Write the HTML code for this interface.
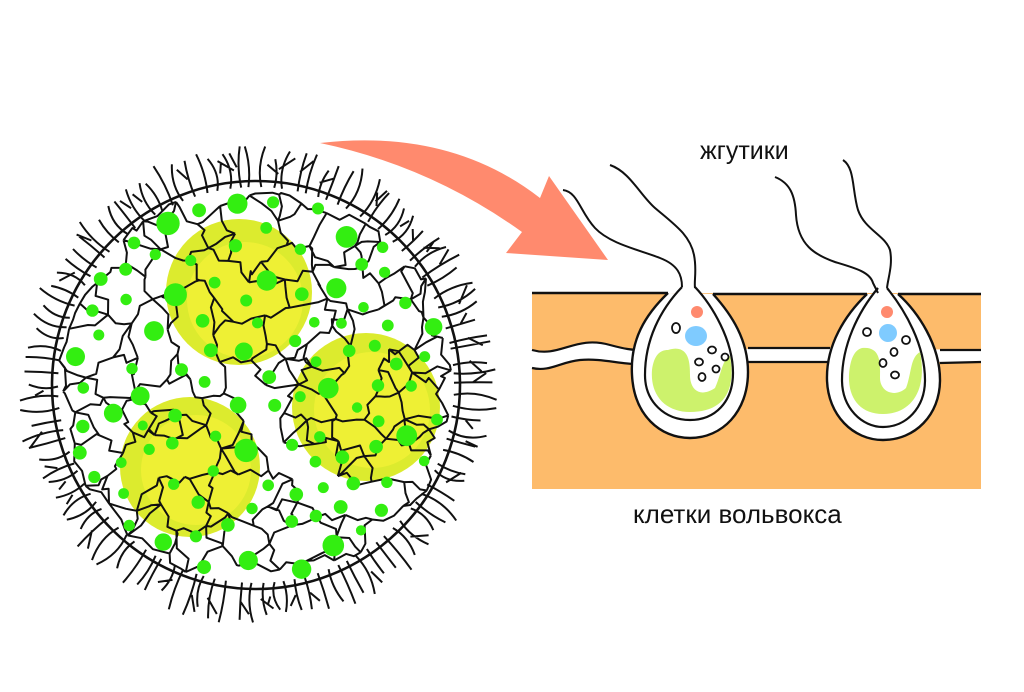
<!DOCTYPE html>
<html><head><meta charset="utf-8"><style>
html,body{margin:0;padding:0;background:#fff;width:1024px;height:692px;overflow:hidden}
svg{display:block}
text{font-family:"Liberation Sans",sans-serif;fill:#111}
</style></head><body>
<svg id="s" width="1024" height="692" viewBox="0 0 1024 692" xmlns="http://www.w3.org/2000/svg">
<path d="M320,143 Q450,128 540,198 L549,176 L608,260 L506,253 L522,232 Q430,166 320,143 Z" fill="#FF8A6E"/>
<g id="sphere">
<circle cx="239" cy="292" r="73" fill="#DCEB2E"/><circle cx="245" cy="300" r="58" fill="#EEF034"/>
<circle cx="366" cy="407" r="74" fill="#DCEB2E"/><circle cx="372" cy="410" r="58" fill="#EEF034"/>
<circle cx="190" cy="467" r="70" fill="#DCEB2E"/><circle cx="196" cy="470" r="55" fill="#EEF034"/>
<g id="net" stroke="#111" stroke-width="2" fill="none" stroke-linejoin="round"></g>
<circle cx="256" cy="385" r="204" fill="none" stroke="#111" stroke-width="2.6"/>
<g id="hair" stroke="#111" stroke-width="2" fill="none"></g>
<g id="dots" fill="#33EE11"></g>
</g>
<rect x="532" y="293" width="449" height="196" fill="#FDBB6B"/>
<line x1="532" y1="293" x2="668" y2="293" stroke="#111" stroke-width="2.4"/>
<line x1="713" y1="294" x2="867" y2="294" stroke="#111" stroke-width="2.4"/>
<line x1="898" y1="294" x2="981" y2="294" stroke="#111" stroke-width="2.4"/>
<path d="M532,350 C560,358 575,335 610,345 C625,349 632,350 640,350 L830,348 L981,350 L981,362 L830,362 L640,364 C620,364 600,358 580,360 C560,362 550,372 532,368 Z" fill="#fff"/>
<path d="M532,350 C560,358 575,335 610,345 C625,349 632,350 640,350 M748,348 L830,348 M940,350 L981,350" stroke="#111" stroke-width="2.2" fill="none"/>
<path d="M532,368 C550,372 560,362 580,360 C600,358 620,364 636,364 M748,362 L830,362 M940,363 L981,362" stroke="#111" stroke-width="2.2" fill="none"/>
<path d="M668,293 C645,315 630,340 632,375 C634,415 660,438 690,438 C722,438 748,412 748,372 C748,340 732,315 713,294" fill="#fff" stroke="#111" stroke-width="2.4"/>
<path d="M682,287 C660,310 645,340 645,375 C645,402 665,420 690,420 C715,420 733,402 733,373 C733,340 712,305 695,287" fill="#fff" stroke="#111" stroke-width="2.2"/>
<path d="M668,350 C690,343 690,365 690,375 C690,390 700,398 715,388 C722,372 722,360 730,356 C737,395 720,412 690,412 C665,412 650,395 652,370 C654,355 660,350 668,350 Z" fill="#CDF26C"/>
<circle cx="697" cy="312" r="6" fill="#FF8A6E"/>
<ellipse cx="696" cy="336" rx="11" ry="10" fill="#7FCBFF"/>
<g fill="none" stroke="#111" stroke-width="1.8">
<ellipse cx="676" cy="328" rx="4" ry="5"/><ellipse cx="712" cy="350" rx="4" ry="3.5"/><ellipse cx="725" cy="357" rx="3.5" ry="3.5"/><ellipse cx="699" cy="362" rx="4" ry="3.5"/><ellipse cx="716" cy="369" rx="3.5" ry="3.5"/><ellipse cx="702" cy="377" rx="3.5" ry="4"/>
</g>
<path d="M867,294 C845,315 826,345 827,380 C828,415 853,440 883,440 C915,440 940,415 940,380 C940,345 918,312 898,294" fill="#fff" stroke="#111" stroke-width="2.4"/>
<path d="M878,288 C858,312 842,345 842,380 C842,408 862,427 883,427 C906,427 925,408 925,380 C925,345 905,310 887,288" fill="#fff" stroke="#111" stroke-width="2.2"/>
<path d="M862,348 C882,346 880,365 880,378 C880,392 895,398 906,388 C912,372 910,358 920,352 C928,392 910,414 883,414 C860,414 848,398 849,375 C850,360 854,350 862,348 Z" fill="#CDF26C"/>
<circle cx="887" cy="312" r="6" fill="#FF8A6E"/>
<ellipse cx="888" cy="333" rx="9" ry="9" fill="#7FCBFF"/>
<g fill="none" stroke="#111" stroke-width="1.8">
<ellipse cx="867" cy="332" rx="4" ry="4"/><ellipse cx="906" cy="340" rx="4" ry="4"/><ellipse cx="894" cy="352" rx="3.5" ry="4"/><ellipse cx="883" cy="363" rx="3.5" ry="4"/><ellipse cx="895" cy="375" rx="4" ry="3.5"/>
</g>
<g fill="none" stroke="#111" stroke-width="2">
<path d="M563,190 C578,192 580,212 595,228 C610,244 640,250 660,258 C678,265 682,275 682,287"/>
<path d="M610,165 C630,172 640,195 655,208 C675,225 690,235 694,255 C697,270 694,280 695,288"/>
<path d="M775,177 C790,183 795,195 796,215 C798,245 815,255 835,262 C855,268 870,272 873,283 L878,293"/>
<path d="M843,160 C855,168 852,190 858,210 C865,230 885,235 890,250 C893,265 888,278 887,288"/>
</g>
<text x="700" y="159" font-size="25">жгутики</text>
<text x="633" y="523" font-size="26">клетки вольвокса</text>
</svg>
<script>
(function(){
var s=12345;function r(){s=(s*16807)%2147483647;return s/2147483647;}
var NS="http://www.w3.org/2000/svg",cx=256,cy=385,R=204;
function add(g,tag,at){var e=document.createElementNS(NS,tag);for(var k in at)e.setAttribute(k,at[k]);document.getElementById(g).appendChild(e);}
var P=[],t=0;
while(P.length<150&&t<50000){t++;var x=cx+(r()*2-1)*R,y=cy+(r()*2-1)*R;var d=Math.hypot(x-cx,y-cy);if(d<R-3){var ok=true;for(var i=0;i<P.length;i++){if(Math.hypot(P[i][0]-x,P[i][1]-y)<22){ok=false;break;}}if(ok)P.push([x,y]);}}
var seen={},d="";
for(var i=0;i<P.length;i++){var L=[];for(var j=0;j<P.length;j++)if(j!=i)L.push([Math.hypot(P[i][0]-P[j][0],P[i][1]-P[j][1]),j]);L.sort(function(a,b){return a[0]-b[0]});
for(var k=0;k<3;k++){var j=L[k][1],key=Math.min(i,j)+"_"+Math.max(i,j);if(seen[key])continue;seen[key]=1;
var a=P[i],b=P[j],dx=b[0]-a[0],dy=b[1]-a[1];
var m1x=a[0]+dx*0.33+(r()-0.5)*12,m1y=a[1]+dy*0.33+(r()-0.5)*12,m2x=a[0]+dx*0.66+(r()-0.5)*12,m2y=a[1]+dy*0.66+(r()-0.5)*12;
d+="M"+a[0].toFixed(1)+","+a[1].toFixed(1)+"L"+m1x.toFixed(1)+","+m1y.toFixed(1)+"L"+m2x.toFixed(1)+","+m2y.toFixed(1)+"L"+b[0].toFixed(1)+","+b[1].toFixed(1);}}
add("net","path",{d:d});
var h="";
for(var i=0;i<110;i++){var a=i/110*Math.PI*2+(r()-0.5)*0.03;var r0=R-6,r1=R+22+r()*16;var bend=(r()-0.5)*0.06;
var x0=cx+Math.cos(a)*r0,y0=cy+Math.sin(a)*r0,xm=cx+Math.cos(a+bend)*(r0+r1)/2,ym=cy+Math.sin(a+bend)*(r0+r1)/2,x1=cx+Math.cos(a-bend*0.5)*r1,y1=cy+Math.sin(a-bend*0.5)*r1;
h+="M"+x0.toFixed(1)+","+y0.toFixed(1)+"Q"+xm.toFixed(1)+","+ym.toFixed(1)+" "+x1.toFixed(1)+","+y1.toFixed(1);
if(r()<0.3){var a2=a+(r()<0.5?0.04:-0.04);h+="M"+xm.toFixed(1)+","+ym.toFixed(1)+"L"+(cx+Math.cos(a2)*(r1-6)).toFixed(1)+","+(cy+Math.sin(a2)*(r1-6)).toFixed(1);}}
add("hair","path",{d:h});
var D=[];var tries=0;
while(D.length<100&&tries<20000){tries++;var x=cx+(r()*2-1)*R,y=cy+(r()*2-1)*R;if(Math.hypot(x-cx,y-cy)>R-14)continue;var rr=r()<0.3?8+r()*4:5+r()*2;var ok=true;for(var i=0;i<D.length;i++){if(Math.hypot(D[i][0]-x,D[i][1]-y)<D[i][2]+rr+12){ok=false;break;}}if(ok)D.push([x,y,rr]);}
for(var i=0;i<D.length;i++)add("dots","circle",{cx:D[i][0].toFixed(1),cy:D[i][1].toFixed(1),r:D[i][2].toFixed(1)});
})();
</script>
</body></html>
